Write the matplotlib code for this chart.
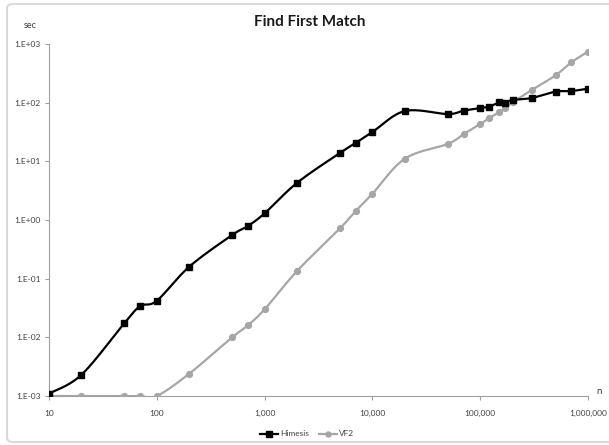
import numpy as np
import matplotlib
matplotlib.use("Agg")
import matplotlib.pyplot as plt
from matplotlib.patches import FancyBboxPatch
from matplotlib.ticker import FixedLocator, NullLocator

plt.rcParams['font.family'] = ['Lato', 'DejaVu Sans']

n_vals = [10, 20, 50, 70, 100, 200, 500, 700, 1000, 2000, 5000, 7000, 10000,
          20000, 50000, 70000, 100000, 120000, 150000, 170000, 200000,
          300000, 500000, 700000, 1000000]
himesis = [0.0011, 0.0023, 0.0174, 0.034, 0.042, 0.16, 0.555, 0.79, 1.3, 4.3,
           13.9, 20.6, 31.6, 72, 64, 73, 81, 85, 101, 100, 111, 120, 154, 158, 173]
vf2 = [0.001, 0.001, 0.001, 0.001, 0.001, 0.0024, 0.01, 0.016, 0.030, 0.135,
       0.72, 1.42, 2.8, 11.1, 19.8, 29, 43, 54, 69, 80, 101, 164, 292, 487, 740]

x_ticks = [10, 100, 1000, 10000, 100000, 1000000]
x_labels = ["10", "100", "1,000", "10,000", "100,000", "1,000,000"]
y_ticks = [1e-3, 1e-2, 1e-1, 1e0, 1e1, 1e2, 1e3]
y_labels = ["1.E-03", "1.E-02", "1.E-01", "1.E+00", "1.E+01", "1.E+02", "1.E+03"]


def smooth(xs, ys, steps=30):
    """Catmull-Rom (Excel-like) smoothing in log-log space."""
    lx = np.log10(xs)
    ly = np.log10(ys)
    pts = np.column_stack([lx, ly])
    out = []
    m = len(pts)
    for i in range(m - 1):
        p0 = pts[i - 1] if i > 0 else pts[i]
        p1 = pts[i]
        p2 = pts[i + 1]
        p3 = pts[i + 2] if i + 2 < m else pts[i + 1]
        c1 = p1 + (p2 - p0) / 6.0
        c2 = p2 - (p3 - p1) / 6.0
        t = np.linspace(0, 1, steps)[:, None]
        seg = ((1 - t) ** 3) * p1 + 3 * ((1 - t) ** 2) * t * c1 + 3 * (1 - t) * t ** 2 * c2 + t ** 3 * p2
        out.append(seg if i == 0 else seg[1:])
    out = np.vstack(out)
    return 10 ** out[:, 0], 10 ** out[:, 1]


fig = plt.figure(figsize=(6.09, 4.45), dpi=100)
ax = fig.add_axes([49 / 609, 49 / 445, 539 / 609, 352 / 445])

# chart border (right edge runs past the image)
border = FancyBboxPatch((7 / 609, 3 / 445), 620 / 609, 438 / 445,
                        boxstyle="round,pad=0,rounding_size=0.01",
                        transform=fig.transFigure, fill=False,
                        edgecolor="#D9D9D9", linewidth=1.5, zorder=0)
fig.patches.append(border)

black = "#000000"
gray = "#A6A6A6"

sx, sy = smooth(n_vals, vf2)
ax.plot(sx, sy, color=gray, lw=1.6, zorder=2, solid_capstyle='round')
ax.plot(n_vals, vf2, linestyle='none', marker='o', ms=4.2, color=gray,
        markeredgecolor=gray, zorder=3)

sx, sy = smooth(n_vals, himesis)
ax.plot(sx, sy, color=black, lw=1.6, zorder=4, solid_capstyle='round')
ax.plot(n_vals, himesis, linestyle='none', marker='s', ms=4.6, color=black, zorder=5)

ax.set_xscale('log')
ax.set_yscale('log')
ax.set_xlim(10, 1000000)
ax.set_ylim(1e-3, 1e3)

ax.xaxis.set_major_locator(FixedLocator(x_ticks))
ax.xaxis.set_minor_locator(NullLocator())
ax.set_xticks(x_ticks)
ax.set_xticklabels(x_labels)
ax.yaxis.set_major_locator(FixedLocator(y_ticks))
ax.yaxis.set_minor_locator(NullLocator())
ax.set_yticks(y_ticks)
ax.set_yticklabels(y_labels)

for s in ['top', 'right']:
    ax.spines[s].set_visible(False)
for s in ['left', 'bottom']:
    ax.spines[s].set_color("#A0A0A0")
    ax.spines[s].set_linewidth(0.8)
ax.tick_params(axis='both', colors="#A0A0A0", labelcolor="#404040",
               labelsize=6, length=3, width=0.8)
ax.tick_params(axis='x', pad=7)
ax.tick_params(axis='y', pad=3)
ax.patch.set_visible(False)

fig.text(310 / 609, 1 - 22 / 445, "Find First Match", ha='center', va='center',
         fontsize=11, fontweight='bold', color="#1a1a1a")
fig.text(30 / 609, 1 - 25 / 445, "sec", ha='center', va='center',
         fontsize=6.5, color="#404040")
fig.text(599 / 609, 1 - 392 / 445, "n", ha='center', va='center',
         fontsize=7, color="#404040")

h1, = ax.plot([], [], color=black, lw=1.6, marker='s', ms=4.6)
h2, = ax.plot([], [], color=gray, lw=1.6, marker='o', ms=3.6)
fig.legend([h1, h2], ["Himesis", "VF2"], loc='center',
           bbox_to_anchor=(307 / 609, 1 - 434 / 445), ncol=2, frameon=False,
           fontsize=6, handlelength=2.2, handletextpad=0.2, columnspacing=1.2,
           labelcolor="#404040")

fig.savefig("out.png", dpi=100)
